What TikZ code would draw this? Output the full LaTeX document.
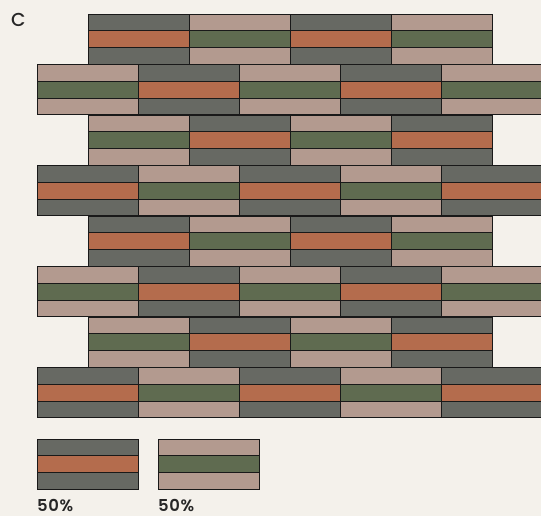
\documentclass[tikz,border=0pt]{standalone}
\usepackage{fontspec}
\setmainfont{Poppins}
\newfontfamily\medfont{Poppins Medium}
\newfontfamily\semifont[LetterSpace=4]{Poppins SemiBold}
\usetikzlibrary{positioning}
\definecolor{cBg}{RGB}{244,241,235}
\definecolor{cGray}{RGB}{103,105,99}
\definecolor{cOrange}{RGB}{180,108,77}
\definecolor{cGreen}{RGB}{95,107,80}
\definecolor{cPink}{RGB}{179,154,143}
\tikzset{
	stripe/.style   ={draw=black!90, line width=0.8pt},
	tag/.style      ={anchor=base west, inner sep=0pt, text=black!85},
}
% one brick: three stripes, outer/inner/outer
\newcommand{\brick}[4]{%
	\draw[stripe, fill=#3] (#1,#2) rectangle ++(101,16.8);
	\draw[stripe, fill=#4] (#1,#2+16.8) rectangle ++(101,16.8);
	\draw[stripe, fill=#3] (#1,#2+33.6) rectangle ++(101,16.8);}

\begin{document}
\begin{tikzpicture}[x=0.03cm, y=-0.03cm]
	\fill[cBg] (0,0) rectangle (541,516);
	\useasboundingbox (0,0) rectangle (541,516);
	% wall, rows shifted by half a brick
	\foreach \r in {0,...,7}{
		\pgfmathtruncatemacro\odd{mod(\r,2)}
		\pgfmathsetmacro\xs{\odd==1 ? 37 : 88}
		\pgfmathtruncatemacro\nc{\odd==1 ? 4 : 3}
		\pgfmathtruncatemacro\k{floor((\r+1)/2)}
		\foreach \c in {0,...,\nc}{
			\pgfmathtruncatemacro\t{mod(\c+\k,2)}
			\pgfmathsetmacro\bx{\xs+101*\c}
			\pgfmathsetmacro\by{14+50.5*\r}
			\ifnum\t=0 \brick{\bx}{\by}{cGray}{cOrange}\else \brick{\bx}{\by}{cPink}{cGreen}\fi
		}
	}
	% legend
	\brick{37}{439}{cGray}{cOrange}
	\brick{158}{439}{cPink}{cGreen}
	\node[tag, font=\medfont\fontsize{16}{16}\selectfont] (title) at (11,27) {C};
	\node[tag, font=\semifont\fontsize{14}{14}\selectfont] (pctA) at (37,511) {50\%};
	\node[tag, font=\semifont\fontsize{14}{14}\selectfont] (pctB) at (158,511) {50\%};
\end{tikzpicture}
\end{document}
